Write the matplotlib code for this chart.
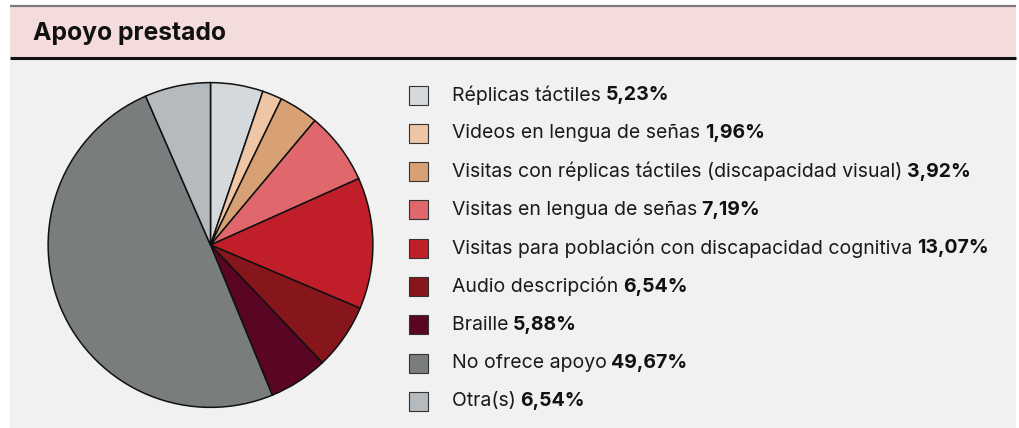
import matplotlib
matplotlib.use("Agg")
import matplotlib.pyplot as plt
from matplotlib.patches import Rectangle

categories = [
    "Réplicas táctiles",
    "Videos en lengua de señas",
    "Visitas con réplicas táctiles (discapacidad visual)",
    "Visitas en lengua de señas",
    "Visitas para población con discapacidad cognitiva",
    "Audio descripción",
    "Braille",
    "No ofrece apoyo",
    "Otra(s)",
]
values = [5.23, 1.96, 3.92, 7.19, 13.07, 6.54, 5.88, 49.67, 6.54]
value_labels = ["5,23%", "1,96%", "3,92%", "7,19%", "13,07%", "6,54%", "5,88%", "49,67%", "6,54%"]
colors = ["#d5d9dc", "#eec5a5", "#d8a075", "#e0676b", "#c01f2a",
          "#86161b", "#5a0524", "#7a7d7e", "#b4babd"]
title = "Apoyo prestado"

W, H = 1019, 428
DPI = 100
FONT = "Inter"
fig = plt.figure(figsize=(W / DPI, H / DPI), dpi=DPI, facecolor="white")

# background axes in pixel coordinates
bg = fig.add_axes([0, 0, 1, 1])
bg.set_xlim(0, W)
bg.set_ylim(H, 0)
bg.axis("off")
bg.add_patch(Rectangle((10, 59), 1006, H - 59, facecolor="#f1f1f1", edgecolor="none"))
bg.add_patch(Rectangle((10, 6), 1006, 51, facecolor="#f4dcdc", edgecolor="none"))
bg.plot([10, 1016], [5.5, 5.5], color="#807878", lw=1.6, solid_capstyle="butt")
bg.plot([10, 1016], [58, 58], color="#111111", lw=2.2, solid_capstyle="butt")
bg.text(33, 33, title, fontsize=17.8, fontweight="bold", family=FONT,
        va="center", ha="left", color="#111111")

# pie
cx, cy, r = 210.5, 245, 164
pax = fig.add_axes([(cx - r) / W, (H - cy - r) / H, 2 * r / W, 2 * r / H])
pax.pie(values, colors=colors, startangle=90, counterclock=False,
        wedgeprops=dict(edgecolor="#111111", linewidth=1.1))
pax.set_xlim(-1.01, 1.01)
pax.set_ylim(-1.01, 1.01)
pax.set_aspect("auto")
pax.axis("off")

# legend
fig.canvas.draw()
renderer = fig.canvas.get_renderer()
fs = 14
y0, dy = 95, 38.3
for i, (cat, lab, col) in enumerate(zip(categories, value_labels, colors)):
    y = y0 + i * dy
    bg.add_patch(Rectangle((409, y - 9.5), 19, 19, facecolor=col,
                           edgecolor="#333333", lw=0.8))
    t = bg.text(452, y, cat + " ", fontsize=fs, family=FONT, va="center",
                ha="left", color="#1a1a1a")
    bb = t.get_window_extent(renderer=renderer)
    bg.text(452 + bb.width - 1, y, lab, fontsize=fs, family=FONT, fontweight="bold",
            va="center", ha="left", color="#111111")

fig.savefig("out.png", dpi=DPI, facecolor="white")
